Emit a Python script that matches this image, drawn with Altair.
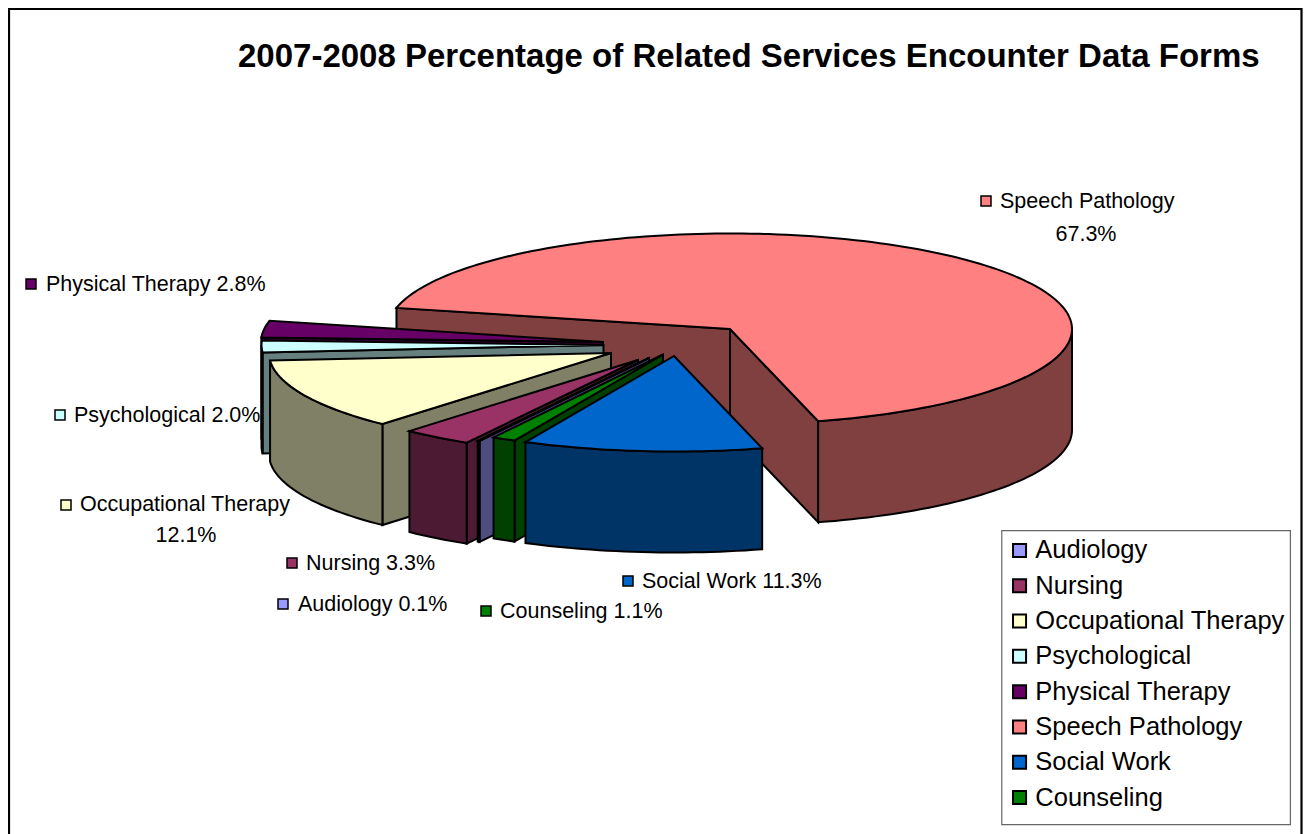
import math
import altair as alt

# ---- chart values -------------------------------------------------------
categories = ["Audiology", "Nursing", "Occupational Therapy", "Psychological",
              "Physical Therapy", "Speech Pathology", "Social Work", "Counseling"]
values = [0.1, 3.3, 12.1, 2.0, 2.8, 67.3, 11.3, 1.1]
top_colors = ["#9999FF", "#993366", "#FFFFCC", "#CCFFFF", "#660066", "#FF8080", "#0066CC", "#008000"]
wall_colors = ["#4D4D80", "#4D1A33", "#808066", "#668080", "#330033", "#804040", "#003366", "#004000"]
percent_labels = ["0.1%", "3.3%", "12.1%", "2.0%", "2.8%", "67.3%", "11.3%", "1.1%"]

# ---- 3D pie layout (page pixels minus the 8px page margin is applied below) --
first_angle = 209.7
radius_x, radius_y, depth = 342, 95.5, 101
apex_x = [649, 638, 611, 603.5, 603, 730, 674, 663]
apex_y = [358, 360, 353, 345, 342, 329, 356, 354.5]
paint_order = [5, 4, 3, 2, 1, 0, 7, 6]
M = 8  # page margin


def rim(i, a):
    t = math.radians(a)
    return [apex_x[i] + radius_x * math.sin(t) - M, apex_y[i] - radius_y * math.cos(t) - M]


def feature(points, fill):
    ring = [[float(p[0]), float(p[1])] for p in points]
    ring.append(ring[0])
    return {"type": "Feature", "properties": {"fill": fill},
            "geometry": {"type": "Polygon", "coordinates": [ring]}}


starts, a = [], first_angle
for v in values:
    starts.append(a)
    a += v * 3.6

shapes = []
for i in paint_order:
    s = starts[i]
    e = s + values[i] * 3.6
    apex = [apex_x[i] - M, apex_y[i] - M]
    down = lambda p: [p[0], p[1] + depth]
    # radial walls turned towards the viewer
    for edge, normal in ((s, s - 90), (e, e + 90)):
        if math.cos(math.radians(normal)) < 0:
            r = rim(i, edge)
            shapes.append(feature([apex, r, down(r), down(apex)], wall_colors[i]))
    # outer wall: rim between 90 and 270 degrees
    for lo, hi in ((90, 270), (450, 630)):
        a0, a1 = max(s, lo), min(e, hi)
        if a1 > a0:
            n = max(2, int((a1 - a0) / 1.5) + 1)
            arc = [rim(i, a0 + (a1 - a0) * k / n) for k in range(n + 1)]
            shapes.append(feature(arc + [down(p) for p in reversed(arc)], wall_colors[i]))
    # top surface
    n = max(2, int((e - s) / 1.5) + 1)
    arc = [rim(i, s + (e - s) * k / n) for k in range(n + 1)]
    shapes.append(feature([apex] + arc, top_colors[i]))

pie = alt.Chart(alt.Data(values=shapes)).mark_geoshape(
    stroke="black", strokeWidth=2, strokeJoin="miter"
).encode(fill=alt.Fill("properties.fill:N", scale=None)).project(
    type="identity", scale=1, translate=[0, 0]
)

# ---- data labels --------------------------------------------------------
label_first = [f"{c} {p}" for c, p in zip(categories, percent_labels)]
label_first[2] = "Occupational Therapy"
label_first[5] = "Speech Pathology"
square_x = [283, 292, 66, 60, 31, 986, 628, 486]
square_y = [604, 563, 505, 415, 284, 201, 581, 611]
text_x = [298, 306, 80, 74, 46, 1000, 642, 500]
text_y = [604.5, 563.5, 504.5, 415.5, 284.5, 201.5, 581.5, 611.5]

rows = [{"cat": c, "sx": sx - M, "sy": sy - M, "tx": tx - M, "ty": ty - M, "label": t}
        for c, sx, sy, tx, ty, t in zip(categories, square_x, square_y, text_x, text_y, label_first)]
second = [{"label": "67.3%", "tx": 1086 - M, "ty": 234.5 - M},
          {"label": "12.1%", "tx": 186 - M, "ty": 535.5 - M}]

legend = alt.Legend(title=None, orient="none", legendX=993.8, legendY=524.7,
                    symbolType="square", symbolSize=170, symbolStrokeWidth=2,
                    symbolStrokeColor="black", labelFont="Liberation Sans",
                    labelFontSize=25.5, labelColor="black",
                    padding=5, rowPadding=8.3, labelOffset=3,
                    labelLimit=400)

squares = alt.Chart(alt.Data(values=rows)).mark_square(
    size=100, stroke="black", strokeWidth=1.5, opacity=1
).encode(
    x=alt.X("sx:Q", scale=None, axis=None),
    y=alt.Y("sy:Q", scale=None, axis=None),
    fill=alt.Fill("cat:N", scale=alt.Scale(domain=categories, range=top_colors), legend=legend),
)

text_style = dict(font="Liberation Sans", fontSize=21.5, color="black", baseline="middle")
labels = alt.Chart(alt.Data(values=rows)).mark_text(align="left", **text_style).encode(
    x=alt.X("tx:Q", scale=None, axis=None), y=alt.Y("ty:Q", scale=None, axis=None), text="label:N")
labels2 = alt.Chart(alt.Data(values=second)).mark_text(align="center", **text_style).encode(
    x=alt.X("tx:Q", scale=None, axis=None), y=alt.Y("ty:Q", scale=None, axis=None), text="label:N")

# ---- title and frame ----------------------------------------------------
title = alt.Chart(alt.Data(values=[{"t": "2007-2008 Percentage of Related Services Encounter Data Forms"}])).mark_text(
    align="left", baseline="middle", font="Liberation Sans", fontSize=33, fontWeight="bold", color="black"
).encode(x=alt.value(238 - M), y=alt.value(57 - M), text="t:N")

frame = alt.Chart(alt.Data(values=[{"a": 1}])).mark_rect(
    fill="white", stroke="black", strokeWidth=2.2
).encode(x=alt.value(1), x2=alt.value(1293.5), y=alt.value(1), y2=alt.value(900))

legend_box = alt.Chart(alt.Data(values=[{"a": 1}])).mark_rect(
    fill="white", stroke="#666666", strokeWidth=1.2
).encode(x=alt.value(993.8), x2=alt.value(1282.4), y=alt.value(522.7), y2=alt.value(816.7))

chart = alt.layer(frame, pie, legend_box, squares, labels, labels2, title).properties(
    width=1295, height=826, padding=0, autosize=alt.AutoSizeParams(type="none"),
    background="white"
).configure_view(stroke=None)

chart.save("out.html", embed_options={"renderer": "svg", "actions": False})
